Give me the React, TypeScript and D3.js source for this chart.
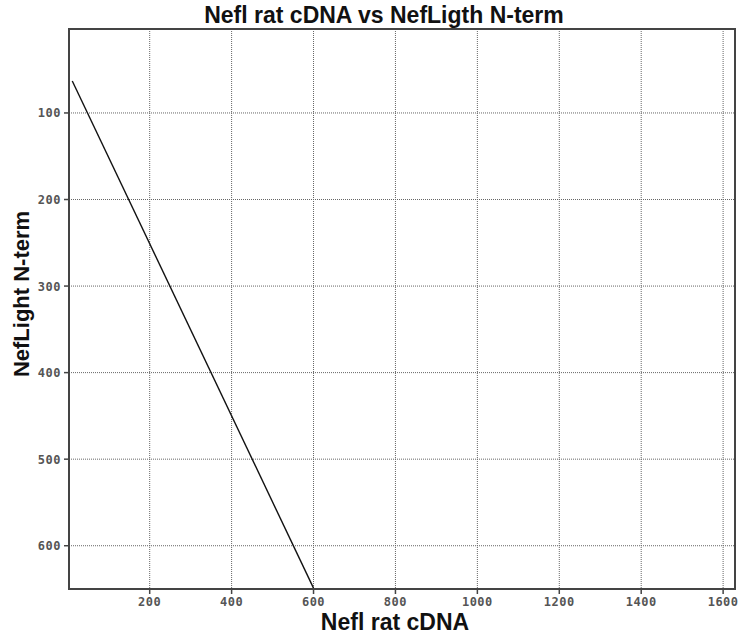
import * as d3 from "d3";

// alignment trace (Nefl rat cDNA position vs NefLight N-term position)
const cdnaPos = [11, 600];
const ntermPos = [63, 649];

const xTicks = [200, 400, 600, 800, 1000, 1200, 1400, 1600];
const yTicks = [100, 200, 300, 400, 500, 600];

const title = "Nefl rat cDNA vs NefLigth N-term";
const xTitle = "Nefl rat cDNA";
const yTitle = "NefLight N-term";

const W = 743;
const H = 638;
const left = 69, right = 735, top = 29, bottom = 589;

export default function App() {
  const x = d3.scaleLinear().domain([3, 1629]).range([left, right]);
  const y = d3.scaleLinear().domain([3, 650]).range([top, bottom]);

  const pts = cdnaPos.map((c, i) => [c, ntermPos[i]] as [number, number]);
  const line = d3.line<[number, number]>()
    .x(d => x(d[0]))
    .y(d => y(d[1]));

  const tickFont = { fontFamily: "DejaVu Sans Mono", fontSize: 12, fontWeight: "bold", fill: "#555", letterSpacing: 0.5 };

  return (
    <svg width={W} height={H} style={{ position: "absolute", left: 0, top: 0, background: "#fff" }}>
      {/* grid */}
      {xTicks.map(t => (
        <line key={"gx" + t} x1={x(t)} x2={x(t)} y1={top} y2={bottom} stroke="#666" strokeDasharray="1 1" />
      ))}
      {yTicks.map(t => (
        <line key={"gy" + t} x1={left} x2={right} y1={y(t)} y2={y(t)} stroke="#666" strokeDasharray="1 1" />
      ))}

      {/* data */}
      <path d={line(pts) || ""} fill="none" stroke="#111" strokeWidth={1.4} />

      {/* frame */}
      <rect x={left} y={top} width={right - left} height={bottom - top} fill="none" stroke="#444" strokeWidth={2} />

      {/* ticks */}
      {xTicks.map(t => (
        <g key={"tx" + t}>
          <line x1={x(t)} x2={x(t)} y1={bottom} y2={bottom + 5} stroke="#444" strokeWidth={1.5} />
          <text x={x(t)} y={606} textAnchor="middle" {...tickFont}>{t}</text>
        </g>
      ))}
      {yTicks.map(t => (
        <g key={"ty" + t}>
          <line x1={left - 5} x2={left} y1={y(t)} y2={y(t)} stroke="#444" strokeWidth={1.5} />
          <text x={61} y={y(t) + 4.5} textAnchor="end" {...tickFont}>{t}</text>
        </g>
      ))}

      {/* titles */}
      <text x={384} y={23} textAnchor="middle" fontFamily="Liberation Sans, Arial" fontWeight="bold" fontSize={23} fill="#111">{title}</text>
      <text x={395} y={630} textAnchor="middle" fontFamily="Liberation Sans, Arial" fontWeight="bold" fontSize={23} fill="#111">{xTitle}</text>
      <text transform="translate(29,294) rotate(-90)" textAnchor="middle" fontFamily="Liberation Sans, Arial" fontWeight="bold" fontSize={22} fill="#111">{yTitle}</text>
    </svg>
  );
}
